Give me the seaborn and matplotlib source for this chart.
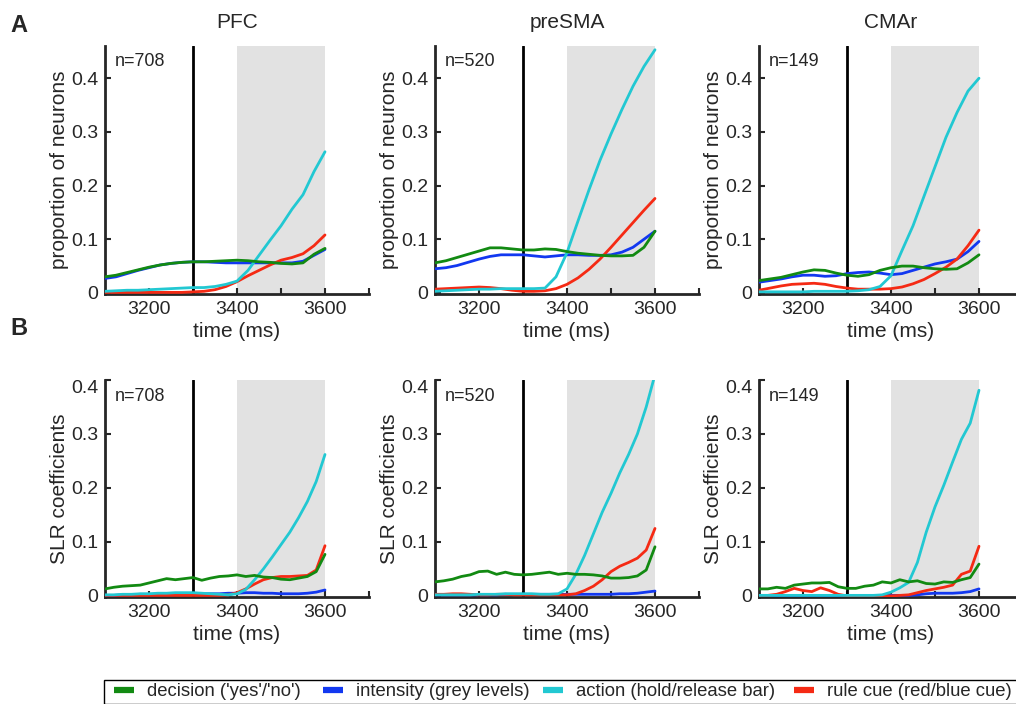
import pandas as pd
import seaborn as sns
import matplotlib.pyplot as plt
from matplotlib.lines import Line2D
from matplotlib.patches import Rectangle


# time grids (ms)
t_prop = [3100, 3125, 3150, 3175, 3200, 3225, 3250, 3275, 3300, 3325, 3350,
          3375, 3400, 3425, 3450, 3475, 3500, 3525, 3550, 3575, 3600]
t_slr = list(range(3100, 3601, 20))

areas = ["PFC", "preSMA", "CMAr"]
n_neurons = ["n=708", "n=520", "n=149"]

factors = ["decision", "intensity", "action", "rule"]
factor_labels = ["decision ('yes'/'no')", "intensity (grey levels)",
                 "action (hold/release bar)", "rule cue (red/blue cue)"]
colors = {"decision": "#128a12", "intensity": "#1238f0",
          "action": "#22c8d2", "rule": "#f52a14"}

# A: proportion of neurons
prop_pfc = {
    "decision": [.030, .033, .038, .043, .048, .052, .055, .057, .058, .058, .059,
                 .060, .061, .060, .058, .057, .055, .054, .056, .072, .083],
    "intensity": [.027, .030, .036, .042, .047, .052, .055, .057, .058, .058, .057,
                  .056, .056, .056, .056, .056, .056, .056, .059, .070, .081],
    "action": [.003, .004, .005, .005, .006, .007, .008, .009, .010, .010, .012,
               .016, .022, .042, .070, .098, .125, .156, .183, .226, .263],
    "rule": [.001, .001, .001, .001, .001, .001, .001, .001, .002, .003, .006,
             .012, .021, .032, .042, .052, .061, .066, .073, .088, .108],
}
prop_presma = {
    "decision": [.056, .060, .066, .072, .078, .084, .084, .082, .080, .080, .082,
                 .081, .077, .074, .072, .070, .069, .069, .070, .085, .115],
    "intensity": [.045, .047, .051, .057, .063, .068, .071, .071, .071, .069, .067,
                  .069, .071, .071, .070, .070, .071, .076, .085, .100, .115],
    "action": [.003, .004, .005, .006, .007, .007, .008, .008, .008, .008, .009,
               .030, .075, .134, .192, .247, .296, .342, .385, .422, .453],
    "rule": [.007, .008, .009, .010, .011, .010, .008, .005, .003, .003, .004,
             .008, .016, .028, .044, .063, .085, .108, .131, .154, .176],
}
prop_cmar = {
    "decision": [.023, .026, .029, .034, .039, .043, .042, .037, .033, .031, .034,
                 .042, .047, .050, .050, .047, .045, .044, .045, .056, .071],
    "intensity": [.020, .023, .026, .030, .033, .033, .031, .032, .036, .038, .039,
                  .037, .034, .036, .042, .048, .054, .058, .063, .077, .096],
    "action": [.002, .002, .002, .002, .002, .003, .003, .003, .003, .004, .006,
               .012, .032, .079, .125, .180, .235, .290, .336, .376, .400],
    "rule": [.005, .009, .013, .016, .017, .018, .016, .012, .009, .007, .007,
             .007, .008, .011, .017, .025, .036, .048, .063, .088, .117],
}

# B: SLR coefficients
slr_pfc = {
    "decision": [.013, .016, .018, .019, .020, .024, .028, .032, .030, .032, .034, .029, .033,
                 .036, .037, .039, .036, .038, .035, .034, .031, .030, .033, .036, .045, .077],
    "intensity": [.001, .001, .002, .002, .003, .003, .003, .004, .004, .004, .004, .004, .004,
                  .004, .005, .005, .006, .006, .005, .005, .004, .004, .004, .005, .007, .011],
    "action": [.002, .002, .003, .003, .004, .004, .005, .005, .006, .006, .006, .005, .004,
               .003, .002, .004, .012, .030, .050, .072, .095, .118, .145, .175, .212, .262],
    "rule": [.001, .001, .001, .001, .001, .001, .001, .001, .001, .001, .001, .001, .001,
             .001, .002, .006, .013, .022, .030, .034, .036, .036, .037, .038, .048, .093],
}
slr_presma = {
    "decision": [.026, .028, .031, .036, .039, .045, .046, .040, .044, .040, .039, .040, .042,
                 .044, .040, .042, .040, .040, .039, .037, .033, .033, .034, .037, .048, .091],
    "intensity": [.002, .002, .002, .002, .002, .002, .002, .002, .003, .003, .003, .003, .003,
                  .003, .003, .003, .003, .003, .003, .003, .003, .004, .004, .005, .007, .009],
    "action": [.002, .002, .002, .002, .002, .003, .003, .003, .004, .004, .004, .004, .003,
               .003, .004, .013, .040, .075, .115, .155, .190, .228, .262, .300, .350, .410],
    "rule": [.003, .003, .004, .004, .003, .002, .002, .003, .003, .002, .002, .002, .002,
             .002, .002, .002, .004, .010, .018, .030, .045, .055, .062, .070, .085, .125],
}
slr_cmar = {
    "decision": [.013, .013, .016, .014, .020, .022, .024, .024, .025, .017, .014, .014, .018,
                 .020, .026, .024, .030, .026, .028, .023, .022, .026, .025, .030, .034, .059],
    "intensity": [.001, .001, .001, .001, .001, .001, .001, .001, .001, .001, .001, .001, .001,
                  .001, .001, .001, .001, .001, .002, .004, .005, .005, .005, .006, .008, .013],
    "action": [.001, .001, .001, .001, .001, .001, .001, .001, .001, .001, .001, .001, .001,
               .001, .002, .007, .015, .025, .062, .118, .165, .205, .248, .290, .320, .381],
    "rule": [.001, .001, .003, .008, .014, .010, .008, .015, .010, .003, .000, .000, .000,
             .000, .000, .000, .001, .002, .006, .010, .013, .016, .020, .040, .046, .092],
}

prop_data = [prop_pfc, prop_presma, prop_cmar]
slr_data = [slr_pfc, slr_presma, slr_cmar]


def to_long(series, times):
    frames = []
    for name in factors:
        frames.append(pd.DataFrame({"time": times, "value": series[name], "factor": name}))
    return pd.concat(frames, ignore_index=True)


sns.set_style("ticks")
plt.rcParams['font.family'] = ['Liberation Sans', 'DejaVu Sans']

fig = plt.figure(figsize=(10.16, 7.04), dpi=100)

lefts = [105, 435, 759]
ax_w = 264 / 1016
draw_order = ["intensity", "rule", "action", "decision"]


def style_axis(ax, ytop, ylab):
    ax.axvspan(3400, 3600, color="#e2e2e2", lw=0, zorder=0)
    ax.axvline(3300, color="k", lw=2, zorder=1)
    ax.set_xlim(3100, 3700)
    ax.set_ylim(-0.002, ytop)
    sns.despine(ax=ax)
    for side in ["left", "bottom"]:
        ax.spines[side].set_linewidth(2)
    ax.set_xticks([3200, 3300, 3400, 3500, 3600, 3700])
    ax.set_xticklabels(["3200", "", "3400", "", "3600", ""])
    ax.set_yticks([0, 0.1, 0.2, 0.3, 0.4])
    ax.set_yticklabels(["0", "0.1", "0.2", "0.3", "0.4"])
    ax.tick_params(direction="in", length=4, width=1.5, labelsize=14, pad=5)
    ax.set_xlabel("time (ms)", fontsize=15, labelpad=3)
    ax.set_ylabel(ylab, fontsize=15, labelpad=1)


for i in range(3):
    # row A
    ax = fig.add_axes([lefts[i] / 1016, (704 - 294) / 704, ax_w, 248 / 704])
    df = to_long(prop_data[i], t_prop)
    for name in draw_order:
        sns.lineplot(data=df[df.factor == name], x="time", y="value", color=colors[name],
                     lw=2, ax=ax, zorder=3)
    style_axis(ax, 0.46, "proportion of neurons")
    ax.set_title(areas[i], fontsize=15, pad=13)
    ax.text(0.038, 0.972, n_neurons[i], transform=ax.transAxes, va="top", fontsize=13)

    # row B
    ax = fig.add_axes([lefts[i] / 1016, (704 - 597) / 704, ax_w, 217 / 704])
    df = to_long(slr_data[i], t_slr)
    for name in draw_order:
        sns.lineplot(data=df[df.factor == name], x="time", y="value", color=colors[name],
                     lw=2, ax=ax, zorder=3)
    style_axis(ax, 0.4, "SLR coefficients")
    ax.get_yticklabels()[-1].set_va("top")
    ax.text(0.038, 0.963, n_neurons[i], transform=ax.transAxes, va="top", fontsize=13)

fig.text(10 / 1016, (704 - 32) / 704, "A", fontsize=17, weight="bold", va="baseline")
fig.text(10 / 1016, (704 - 335) / 704, "B", fontsize=17, weight="bold", va="baseline")

# legend along the bottom: one entry per slot so the spacing follows the original
legend_x = [114, 323, 543, 794]
for f, lab, x in zip(factors, factor_labels, legend_x):
    h = Line2D([], [], color=colors[f], lw=4.5, solid_capstyle="butt")
    fig.legend([h], [lab], loc="center left", bbox_to_anchor=(x / 1016, (704 - 692) / 704),
               frameon=False, fontsize=13.3, handlelength=1.1, handletextpad=0.7,
               borderpad=0, borderaxespad=0)
fig.patches.append(Rectangle((104 / 1016, 0.5 / 704), 1, 24 / 704, fill=False, ec="k", lw=1,
                             transform=fig.transFigure, figure=fig))

plt.savefig("out.png", dpi=100)
plt.close()
